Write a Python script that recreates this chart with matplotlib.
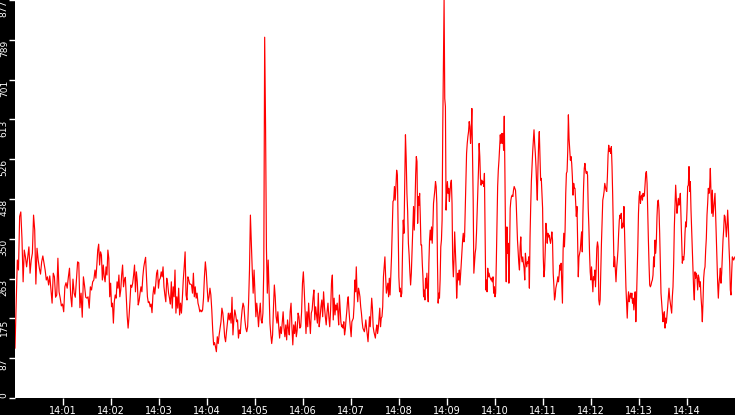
import numpy as np
import matplotlib
matplotlib.use("Agg")
import matplotlib.pyplot as plt

# Values, grouped per 100-second block starting at 14:00:00
seg0 = [110,209,304,282,400,410,352,256,326,311,289,311,333,275,304,319,403,370,251,330,304,286,273,300,313,297,282,260,267,249,269,238,209,275,267,222,227,308,234,220,203,207,190,245,254,242,266,286,227,201,262,231,222,260,300,298,199,231,178,267,247,222,220,223,198,245,238,256,260]
seg1 = [282,264,293,326,339,293,322,315,260,293,267,256,289,271,326,308,223,253,201,209,165,212,227,220,256,242,271,223,238,271,293,245,260,266,223,181,154,179,212,249,244,253,271,293,234,278,256,205,214,231,245,234,267,288,300,310,267,223,210,212,201,207,188,227,245,229,249,275,282,242,260,264,278,267,289,245,227,212,264,253,231,220,207,256,198,245,223]
seg2 = [282,187,223,198,242,183,209,187,220,260,289,322,227,216,267,260,251,251,249,231,275,223,245,220,231,209,201,190,194,190,194,220,267,300,278,242,212,223,242,227,194,150,117,122,113,102,135,120,139,154,168,198,187,165,135,124,146,165,187,172,187,165,222,139,172,194,183,168,172,132,150,142,172,194,209,201,172,154,146,157,209,282,403,341,282,231,282]
seg3 = [227,179,209,187,157,187,209,172,165,187,286,795,602,330,231,304,238,165,139,120,139,198,249,223,179,165,190,157,132,157,142,165,190,154,135,161,128,172,154,139,190,209,157,117,161,142,168,135,150,187,179,154,157,190,253,278,238,187,142,190,157,209,172,142,187,194,220,238,172,201,183,165,231,157,176,201,216,179,234,201,179,161,190,209,179,157,194,253,271,172,220]
seg4 = [183,205,194,209,187,161,227,198,168,157,161,154,168,139,150,172,190,212,223,194,172,154,135,168,172,176,205,260,234,289,234,212,242,234,223,201,187,168,154,150,146,157,172,154,139,124,150,179,157,187,220,198,157,146,139,132,150,161,142,154,176,198,157,176,179,201,267,289,311,267,231,242,253,223,264,227,267,311,370,433,436,466,436,466,502,491,377,267,234,242,223,231,322,392,363,466,580,528,451,411,341,315,278,249,275,322,370,422,370]
seg5 = [425,491,532,521,385,444,425,451,400,337,337,297,267,223,238,216,264,242,275,238,212,297,348,370,348,377,341,377,429,444,458,477,466,429,297,209,231,220,260,333,348,392,598,730,877,660,642,414,455,477,451,462,433,455,473,480,429,304,267,304,366,326,289,220,253,275,260,282,249,275,297,322,348,363,344,355,414,480,539,561,576,587,609,598,561,587,638,535,436,275,297,319,330,363,407,455,502,561,532,484,469,480,473,477,466,495,370,238,260,234,286,267,275,267,264,260,264,256,267,231,245]
seg6 = [223,231,300,385,466,502,524,554,580,561,583,561,583,546,621,495,341,256,377,319,341,253,322,418,436,444,447,444,458,466,462,458,433,392,348,322,297,282,333,355,311,300,311,297,286,260,319,300,289,300,297,311,242,355,422,477,510,543,569,591,561,539,510,469,436,510,561,587,532,480,484,451,418,311,267,282,326,385,370,341,363,355,359,348,341,352,366,348,275,249,216,223,242,249,256,267,256,271,293,282,297,249,209,326,363,333,370,451,495,499,543,624,572,546,524,532,517,488,447,473,462]
seg7 = [462,429,400,422,341,267,311,319,326,348,366,322,407,466,506,517,502,495,499,491,418,377,319,278,260,289,260,234,267,260,282,245,282,330,344,333,216,205,216,282,341,388,436,444,455,473,466,458,455,488,535,557,543,550,539,554,510,447,363,289,311,282,256,286,304,326,363,392,403,396,407,374,385,377,422,363,311,245,212,176,216,234,212,223,231,220,231,209,220,194,216,234,168,216,275,333,407,444,455,429,444,447,436,451,444,447,473,495,499,473,407,348,293,249,245,249,256,260,271,311,289]
seg8 = [348,319,344,400,433,436,414,363,297,231,209,187,168,183,190,154,176,165,183,201,223,242,220,209,198,187,223,245,297,377,425,469,440,407,422,440,425,436,451,400,344,297,311,304,319,363,388,377,414,466,469,510,455,477,414,370,326,282,238,216,278,264,275,264,238,271,264,245,256,223,201,168,212,264,282,289,326,352,403,429,462,451,466,506,451,407,458,400,418,436,451,400,352,304,253,220,253,267,286,253,275,311,348,370,403,400,381,355,377,414,381,333,297,238,227,275,311,308,304,308,311]

segments = [seg0, seg1, seg2, seg3, seg4, seg5, seg6, seg7, seg8]
seg_seconds = 100

x_tick_minutes = [1, 2, 3, 4, 5, 6, 7, 8, 9, 10, 11, 12, 13, 14]
x_tick_labels = ["14:01", "14:02", "14:03", "14:04", "14:05", "14:06", "14:07",
                 "14:08", "14:09", "14:10", "14:11", "14:12", "14:13", "14:14"]
y_max = 877
y_tick_labels = ["0", "87", "175", "263", "350", "438", "526", "613", "701", "789", "877"]

# build time axis (seconds since 14:00:00)
times, values = [], []
for k, seg in enumerate(segments):
    last = (k == len(segments) - 1)
    t = np.linspace(k * seg_seconds, (k + 1) * seg_seconds, len(seg), endpoint=last)
    times.extend(t)
    values.extend(seg)
times = np.array(times)
values = np.array(values)

W, H = 735, 415
fig = plt.figure(figsize=(W / 100, H / 100), dpi=100, facecolor="black")
ax = fig.add_axes([15 / W, 17 / H, 720 / W, 398 / H])
ax.set_facecolor("white")
ax.plot(times, values, color="#ff0000", linewidth=0.85)
ax.set_xlim(0, 900)
ax.set_ylim(0, y_max)

for s in ax.spines.values():
    s.set_visible(False)

ax.set_xticks([m * 60 for m in x_tick_minutes])
ax.set_xticklabels(x_tick_labels)
yt = [y_max / 10 * i for i in range(len(y_tick_labels))]
ax.set_yticks(yt)
ax.set_yticklabels(y_tick_labels)

ax.tick_params(axis="x", colors="white", direction="out", length=5, width=1, pad=0.5,
               labelsize=7)
ax.tick_params(axis="y", colors="white", direction="out", length=4, width=1, pad=0.5,
               labelsize=6.5)
for lab in ax.get_xticklabels():
    lab.set_color("white")
    lab.set_family("DejaVu Sans")
for i, lab in enumerate(ax.get_yticklabels()):
    lab.set_rotation(90)
    lab.set_color("white")
    lab.set_family("DejaVu Sans")
    lab.set_va("bottom" if i == 0 else "top")
    lab.set_ha("right")

fig.savefig("out.png", dpi=100, facecolor="black")
